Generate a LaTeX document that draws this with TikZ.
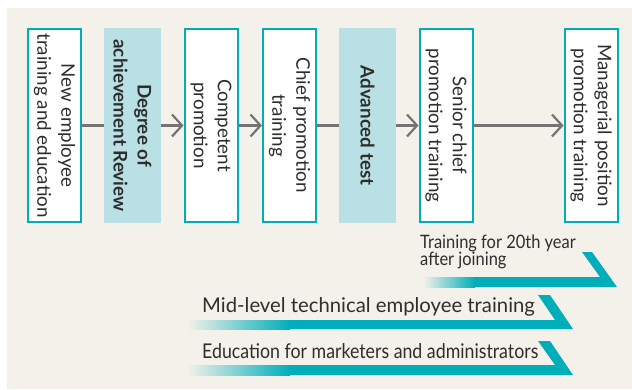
\documentclass[tikz,border=0pt]{standalone}
\usepackage{fontspec}
\setmainfont{Lato}
\usetikzlibrary{arrows.meta}
\definecolor{bgc}{HTML}{F4F1EA}
\definecolor{tealc}{HTML}{00AEB9}
\definecolor{lightc}{HTML}{B9E0E5}
\definecolor{txtc}{HTML}{2E2E2E}
\definecolor{arrc}{HTML}{747474}
\begin{document}
\begin{tikzpicture}[x=1pt,y=-1pt,
  stepbox/.style={draw=tealc, line width=2pt, fill=white, rotate=-90,
    minimum width=193pt, minimum height=53pt, inner sep=0pt, align=center,
    text=txtc, font=\fontsize{18.8}{24}\selectfont},
  keybox/.style={fill=lightc, rotate=-90,
    minimum width=195pt, minimum height=57pt, inner sep=0pt, align=center,
    text=txtc, font=\fontsize{18.8}{24}\selectfont\bfseries},
  conn/.style={draw=arrc, line width=2.2pt},
  arr/.style={conn, -{Straight Barb[length=10pt, width=22pt, line width=2.2pt]}},
  bar/.style={fill=tealc},
  fade/.style={left color=bgc, right color=tealc},
  bartext/.style={text=txtc, inner sep=0pt, font=\fontsize{20.3}{22}\selectfont},
  smalltext/.style={text=txtc, inner sep=0pt, font=\fontsize{18.5}{18}\selectfont},
  ]
\useasboundingbox (0,0) rectangle (632,389);
\fill[bgc] (7,8) rectangle (632,389);

\node[stepbox] (b1) at (54.5,125.5) {New employee\\training and education};
\node[keybox]  (b2) at (132.5,125.5) {Degree of\\achievement Review};
\node[stepbox] (b3) at (211,125.5) {Competent\\promotion};
\node[stepbox] (b4) at (289.5,125.5) {Chief promotion\\training};
\node[keybox]  (b5) at (367.5,125.5) {Advanced test};
\node[stepbox] (b6) at (446,125.5) {Senior chief\\promotion training};
\node[stepbox] (b7) at (591,125.5) {Managerial position\\promotion training};

\draw[conn] (b1) -- (b2);
\draw[arr] (b2) -- (b3);
\draw[arr] (b3) -- (b4);
\draw[conn] (b4) -- (b5);
\draw[arr] (b5) -- (b6);
\draw[arr] (b6) -- (b7);

% bar 1
\fill[bar] (423,287) -- (617,287) -- (592,252) -- (582,252) -- (600,277) -- (423,277) -- cycle;
\shade[fade] (423,277) rectangle (475,287);
\node[smalltext, anchor=base west] (t1) at (420,248) {\scalebox{0.89}[1]{Training for 20th year}};
\node[smalltext, anchor=base west] (t1b) at (420,265) {\scalebox{0.89}[1]{after joining}};

% bar 2
\fill[bar] (187,329) -- (573,329) -- (550,295) -- (538,295) -- (555,320) -- (187,320) -- cycle;
\shade[fade] (187,320) rectangle (290,329);
\node[bartext, anchor=base west] (t2) at (202,312) {Mid-level technical employee training};

% bar 3
\fill[bar] (187,375) -- (573,375) -- (550,341) -- (538,341) -- (555,365) -- (187,365) -- cycle;
\shade[fade] (187,365) rectangle (290,375);
\node[bartext, anchor=base west] (t3) at (202,358) {\scalebox{0.875}[1]{Education for marketers and administrators}};
\end{tikzpicture}
\end{document}
